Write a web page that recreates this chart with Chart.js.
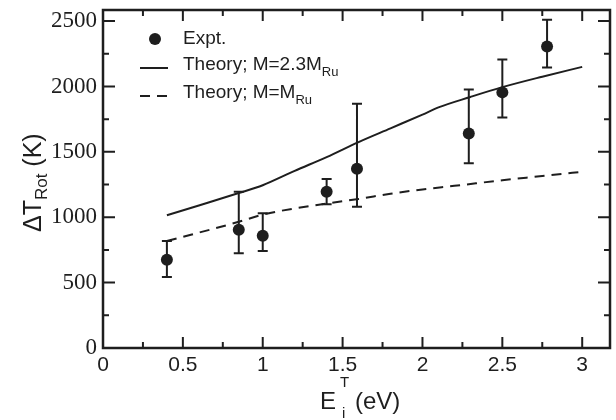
<!DOCTYPE html>
<html>
<head>
<meta charset="utf-8">
<script src="https://cdn.jsdelivr.net/npm/chart.js@4.4.0/dist/chart.umd.min.js"></script>
<style>
  body { margin: 0; background: #fff; }
  canvas { display: block; }
</style>
</head>
<body>
<canvas id="chart" width="616" height="420"></canvas>
<script>
// Experimental points (with error bars)
const exptX = [0.4, 0.85, 1.0, 1.4, 1.59, 2.29, 2.5, 2.78];
const exptY = [675, 905, 858, 1195, 1370, 1640, 1955, 2305];
const exptLow = [543, 724, 741, 1100, 1080, 1412, 1763, 2146];
const exptHigh = [818, 1195, 1030, 1292, 1868, 1977, 2207, 2510];

// Theory; M = 2.3 M_Ru (solid)
const heavyX = [0.4, 0.6, 0.85, 1.0, 1.2, 1.4, 1.6, 1.8, 2.0, 2.1, 2.3, 2.5, 2.75, 3.0];
const heavyY = [1015, 1090, 1185, 1245, 1355, 1460, 1575, 1680, 1785, 1840, 1920, 1995, 2075, 2150];

// Theory; M = M_Ru (dashed)
const lightX = [0.4, 0.85, 1.0, 1.4, 1.6, 1.8, 2.0, 2.2, 2.5, 2.75, 3.0];
const lightY = [818, 965, 1020, 1105, 1140, 1180, 1213, 1240, 1283, 1315, 1348];

// Tick labels
const xTicks = [0, 0.5, 1, 1.5, 2, 2.5, 3];
const xMinor = [0.25, 0.75, 1.25, 1.75, 2.25, 2.75];
const yTicks = [0, 500, 1000, 1500, 2000, 2500];
const yMinor = [250, 750, 1250, 1750, 2250];

const ink = '#1e1e1e';
const sans = "'Liberation Sans', Arial, sans-serif";
const serif = "'Liberation Serif', 'Times New Roman', serif";

function pts(xs, ys) {
    return xs.map((x, i) => ({ x: x, y: ys[i] }));
}

// Frame with inward ticks on all four sides
const framePlugin = {
    id: 'frame',
    afterDatasetsDraw(chart) {
        const { ctx, chartArea: a, scales: { x, y } } = chart;
        ctx.save();
        ctx.strokeStyle = ink;
        ctx.lineWidth = 2.5;
        ctx.strokeRect(a.left, a.top, a.right - a.left, a.bottom - a.top);
        ctx.lineWidth = 2;
        ctx.beginPath();
        const xt = (v, len) => {
            const px = x.getPixelForValue(v);
            ctx.moveTo(px, a.bottom); ctx.lineTo(px, a.bottom - len);
            ctx.moveTo(px, a.top); ctx.lineTo(px, a.top + len);
        };
        const yt = (v, len) => {
            const py = y.getPixelForValue(v);
            ctx.moveTo(a.left, py); ctx.lineTo(a.left + len, py);
            ctx.moveTo(a.right, py); ctx.lineTo(a.right - len, py);
        };
        xTicks.forEach(v => xt(v, 11));
        xMinor.forEach(v => xt(v, 6));
        yTicks.forEach(v => yt(v, 12));
        yMinor.forEach(v => yt(v, 6));
        ctx.stroke();
        ctx.restore();
    }
};

// Vertical error bars with caps
const errorPlugin = {
    id: 'errors',
    beforeDatasetsDraw(chart) {
        const { ctx, scales: { x, y } } = chart;
        ctx.save();
        ctx.strokeStyle = ink;
        ctx.lineWidth = 2;
        ctx.beginPath();
        exptX.forEach((v, i) => {
            const px = x.getPixelForValue(v);
            const lo = y.getPixelForValue(exptLow[i]);
            const hi = y.getPixelForValue(exptHigh[i]);
            ctx.moveTo(px, lo); ctx.lineTo(px, hi);
            ctx.moveTo(px - 5, lo); ctx.lineTo(px + 5, lo);
            ctx.moveTo(px - 5, hi); ctx.lineTo(px + 5, hi);
        });
        ctx.stroke();
        ctx.restore();
    }
};

// draw a run of [text, size, dy] pieces, returns end x
function drawRun(ctx, x, y, parts) {
    parts.forEach(([t, size, dy]) => {
        ctx.font = size + 'px ' + sans;
        ctx.fillText(t, x, y + dy);
        x += ctx.measureText(t).width;
    });
    return x;
}

// Legend and axis titles (need sub/superscripts)
const textPlugin = {
    id: 'texts',
    afterDraw(chart) {
        const ctx = chart.ctx;
        ctx.save();
        ctx.fillStyle = ink;
        ctx.strokeStyle = ink;
        ctx.textBaseline = 'alphabetic';
        ctx.textAlign = 'left';

        // legend
        ctx.beginPath();
        ctx.arc(155, 39, 6, 0, Math.PI * 2);
        ctx.fill();
        drawRun(ctx, 183, 44, [['Expt.', 19, 0]]);

        ctx.lineWidth = 2;
        ctx.beginPath();
        ctx.moveTo(140, 68); ctx.lineTo(168, 68);
        ctx.stroke();
        drawRun(ctx, 183, 70, [['Theory; M=2.3M', 19, 0], ['Ru', 13, 6]]);

        ctx.setLineDash([10, 7]);
        ctx.beginPath();
        ctx.moveTo(140, 96); ctx.lineTo(168, 96);
        ctx.stroke();
        ctx.setLineDash([]);
        drawRun(ctx, 183, 98, [['Theory; M=M', 19, 0], ['Ru', 13, 6]]);

        // x title: E^T_i (eV)
        ctx.font = '24px ' + sans;
        ctx.fillText('E', 320, 409);
        ctx.font = '15px ' + sans;
        ctx.fillText('T', 340, 387);
        ctx.fillText('i', 342, 418);
        ctx.font = '24px ' + sans;
        ctx.fillText('(eV)', 355, 409);

        // y title: ΔT_Rot (K), rotated
        ctx.translate(41, 232);
        ctx.rotate(-Math.PI / 2);
        drawRun(ctx, 0, 0, [['\u0394T', 25, 0], ['Rot', 17, 6], [' (K)', 25, 0]]);
        ctx.restore();
    }
};

new Chart(document.getElementById('chart'), {
    type: 'scatter',
    data: {
        datasets: [
            {
                label: 'Expt.',
                data: pts(exptX, exptY),
                pointRadius: 6,
                pointBackgroundColor: ink,
                pointBorderColor: ink,
                pointBorderWidth: 0,
                showLine: false
            },
            {
                label: 'Theory; M=2.3M_Ru',
                data: pts(heavyX, heavyY),
                showLine: true,
                borderColor: ink,
                borderWidth: 2,
                pointRadius: 0,
                cubicInterpolationMode: 'monotone'
            },
            {
                label: 'Theory; M=M_Ru',
                data: pts(lightX, lightY),
                showLine: true,
                borderColor: ink,
                borderWidth: 2,
                borderDash: [10, 7],
                pointRadius: 0,
                cubicInterpolationMode: 'monotone'
            }
        ]
    },
    options: {
        responsive: false,
        animation: false,
        layout: { padding: { top: 10, right: 2, left: 0, bottom: 0 } },
        plugins: {
            legend: { display: false },
            tooltip: { enabled: false }
        },
        scales: {
            x: {
                type: 'linear',
                min: 0,
                max: 3.174,
                afterBuildTicks: s => { s.ticks = xTicks.map(v => ({ value: v })); },
                afterFit: s => {
                    s.height = 72;
                    s.paddingLeft = 0; s.paddingRight = 0;
                },
                grid: { display: false, drawTicks: false },
                border: { display: false },
                ticks: {
                    autoSkip: false,
                    maxRotation: 0,
                    padding: 5,
                    color: ink,
                    font: { family: sans, size: 21 },
                    callback: v => String(v)
                }
            },
            y: {
                type: 'linear',
                min: 0,
                max: 2585,
                afterBuildTicks: s => { s.ticks = yTicks.map(v => ({ value: v })); },
                afterFit: s => {
                    s.width = 103;
                    s.paddingTop = 0; s.paddingBottom = 0;
                },
                grid: { display: false, drawTicks: false },
                border: { display: false },
                ticks: {
                    padding: 6,
                    color: ink,
                    font: { family: serif, size: 23 },
                    callback: v => String(v)
                }
            }
        }
    },
    plugins: [framePlugin, errorPlugin, textPlugin]
});
</script>
</body>
</html>
